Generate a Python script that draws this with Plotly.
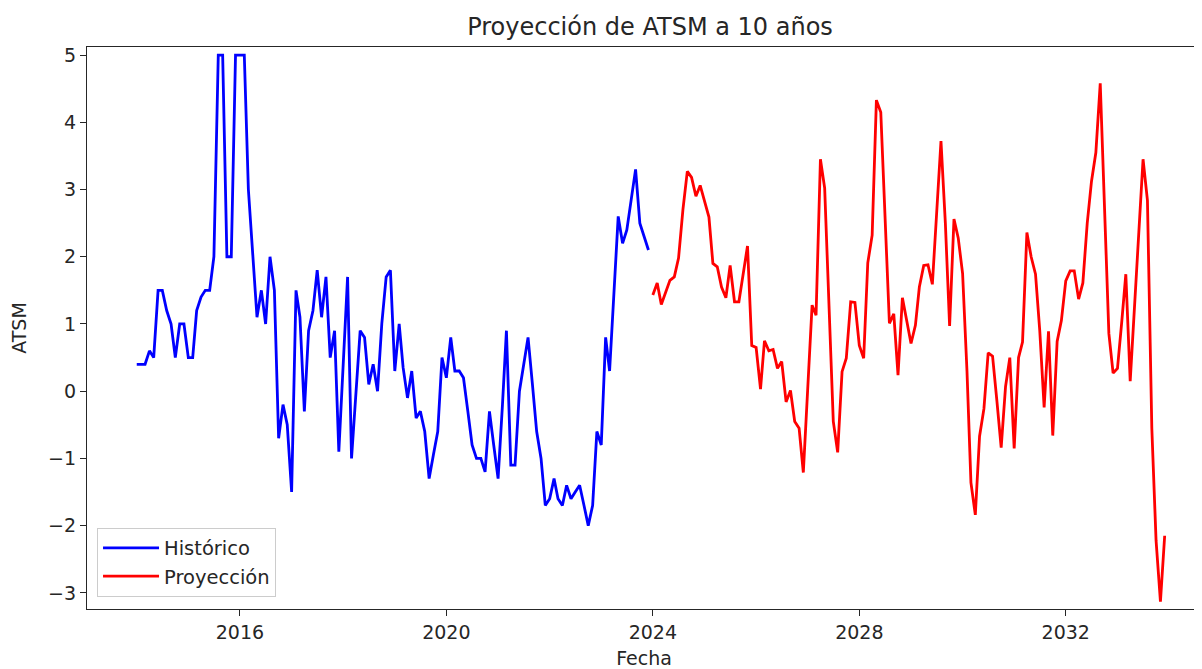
import pandas as pd
import plotly.graph_objects as go

# ---------------- data ----------------
hist_start = "2014-01-01"
proj_start = "2024-01-01"

historico = [
    0.4, 0.4, 0.4, 0.6, 0.5, 1.5, 1.5, 1.2, 1.0, 0.5, 1.0, 1.0,          # 2014
    0.5, 0.5, 1.2, 1.4, 1.5, 1.5, 2.0, 5.0, 5.0, 2.0, 2.0, 5.0,          # 2015
    5.0, 5.0, 3.0, 2.0, 1.1, 1.5, 1.0, 2.0, 1.5, -0.7, -0.2, -0.5,       # 2016
    -1.5, 1.5, 1.1, -0.3, 0.9, 1.2, 1.8, 1.1, 1.7, 0.5, 0.9, -0.9,       # 2017
    0.4, 1.7, -1.0, 0.0, 0.9, 0.8, 0.1, 0.4, 0.0, 1.0, 1.7, 1.8,         # 2018
    0.3, 1.0, 0.35, -0.1, 0.3, -0.4, -0.3, -0.6, -1.3, -0.95, -0.6, 0.5, # 2019
    0.2, 0.8, 0.3, 0.3, 0.2, -0.3, -0.8, -1.0, -1.0, -1.2, -0.3, -0.8,   # 2020
    -1.3, -0.2, 0.9, -1.1, -1.1, 0.0, 0.4, 0.8, 0.1, -0.6, -1.0, -1.7,   # 2021
    -1.6, -1.3, -1.6, -1.7, -1.4, -1.6, -1.5, -1.4, -1.7, -2.0, -1.7, -0.6,  # 2022
    -0.8, 0.8, 0.3, 1.45, 2.6, 2.2, 2.4, 2.85, 3.3, 2.5, 2.3, 2.1,       # 2023
]

proyeccion = [
    1.43, 1.61, 1.29, 1.48, 1.65, 1.70, 1.98, 2.70, 3.27, 3.18, 2.90, 3.06,      # 2024
    2.84, 2.59, 1.90, 1.85, 1.55, 1.39, 1.87, 1.33, 1.33, 1.75, 2.16, 0.68,      # 2025
    0.65, 0.03, 0.75, 0.60, 0.62, 0.34, 0.44, -0.16, 0.01, -0.45, -0.55, -1.21,  # 2026
    0.00, 1.28, 1.13, 3.45, 3.02, 1.20, -0.45, -0.91, 0.29, 0.49, 1.33, 1.32,    # 2027
    0.68, 0.49, 1.91, 2.32, 4.33, 4.15, 2.60, 1.01, 1.15, 0.24, 1.39, 1.05,      # 2028
    0.71, 0.98, 1.55, 1.87, 1.88, 1.59, 2.65, 3.72, 2.50, 0.97, 2.56, 2.28,      # 2029
    1.75, 0.30, -1.36, -1.84, -0.67, -0.26, 0.57, 0.52, -0.15, -0.84, 0.07, 0.50,  # 2030
    -0.85, 0.50, 0.73, 2.36, 2.00, 1.74, 0.90, -0.24, 0.89, -0.66, 0.74, 1.05,   # 2031
    1.64, 1.79, 1.79, 1.37, 1.61, 2.50, 3.12, 3.55, 4.58, 2.70, 0.86, 0.27,      # 2032
    0.34, 1.05, 1.74, 0.15, 1.30, 2.40, 3.45, 2.84, -0.55, -2.22, -3.13, -2.15,  # 2033
]

x_tick_years = [2016, 2020, 2024, 2028, 2032]
y_tick_values = [-3, -2, -1, 0, 1, 2, 3, 4, 5]
y_tick_labels = ["\u22123", "\u22122", "\u22121", "0", "1", "2", "3", "4", "5"]

titulo = "Proyección de ATSM a 10 años"
x_label = "Fecha"
y_label = "ATSM"

# ---------------- figure ----------------
hist_dates = pd.date_range(hist_start, periods=len(historico), freq="MS")
proj_dates = pd.date_range(proj_start, periods=len(proyeccion), freq="MS")

fig = go.Figure()
fig.add_trace(go.Scatter(x=hist_dates, y=historico, mode="lines", name="Histórico",
                         line=dict(color="#0000ff", width=2.8)))
fig.add_trace(go.Scatter(x=proj_dates, y=proyeccion, mode="lines", name="Proyección",
                         line=dict(color="#ff0000", width=2.8)))

# the page body adds an 8px offset; the figure is sized so it fills the window
W, H = 1194, 661
L, R, T, B = 79, 1, 39, 60
x_range = ["2013-01-14", "2034-08-15"]
y_range = [-3.24, 5.12]
ink = "#262626"

fig.update_layout(
    template="none",
    width=W, height=H,
    margin=dict(l=L, r=R, t=T, b=B, pad=0),
    plot_bgcolor="white", paper_bgcolor="white",
    font=dict(family="DejaVu Sans", size=19, color=ink),
    title=dict(text=titulo, x=(642 - L) / (W - L - R), xref="paper", xanchor="center",
               y=1 - 19 / H, yref="container", yanchor="middle",
               font=dict(size=24, color=ink)),
    showlegend=True,
    legend=dict(x=0.009, y=0.022, xanchor="left", yanchor="bottom",
                bgcolor="rgba(255,255,255,0.8)", bordercolor="#cccccc", borderwidth=1,
                font=dict(size=19.5, color=ink), itemwidth=56, tracegroupgap=4),
    xaxis=dict(type="date", range=x_range,
               tickmode="array",
               tickvals=[f"{y}-01-01" for y in x_tick_years],
               ticktext=[str(y) for y in x_tick_years],
               ticks="outside", ticklen=6, tickwidth=1.4, tickcolor=ink,
               showline=True, linecolor=ink, linewidth=1.4, mirror=True,
               showgrid=False, zeroline=False, automargin=False,
               tickfont=dict(size=19, color=ink),
               title=dict(text=x_label, standoff=12, font=dict(size=19, color=ink))),
    yaxis=dict(range=y_range, tickmode="array",
               tickvals=y_tick_values, ticktext=y_tick_labels,
               ticks="outside", ticklen=6, tickwidth=1.4, tickcolor=ink,
               showline=True, linecolor=ink, linewidth=1.4, mirror=False,
               showgrid=False, zeroline=False, automargin=False,
               tickfont=dict(size=19, color=ink),
               title=dict(text=y_label, standoff=18, font=dict(size=19, color=ink))),
)

fig.write_html("out.html")
